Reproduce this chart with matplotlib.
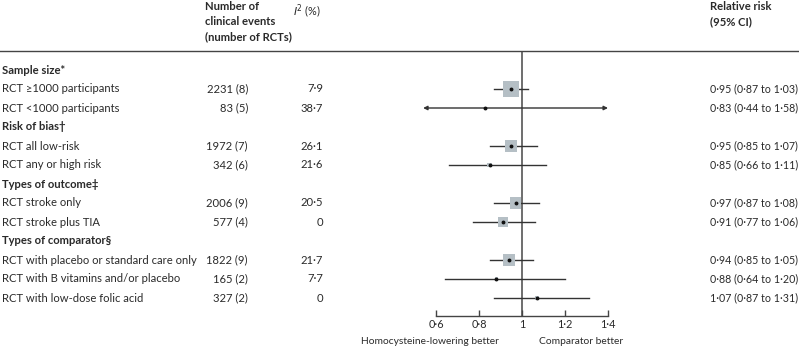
import numpy as np
import matplotlib
matplotlib.use("Agg")
import matplotlib.pyplot as plt
from matplotlib.lines import Line2D
from matplotlib import transforms

plt.rcParams['font.family'] = ['Lato', 'DejaVu Sans']
plt.rcParams['font.size'] = 8.1
plt.rcParams['text.color'] = '#2a2a2a'

# rows of the table
groups = ['Sample size*', 'Risk of bias\u2020', 'Types of outcome\u2021', 'Types of comparator\u00a7']
labels = [
    ['RCT \u22651000 participants', 'RCT <1000 participants'],
    ['RCT all low-risk', 'RCT any or high risk'],
    ['RCT stroke only', 'RCT stroke plus TIA'],
    ['RCT with placebo or standard care only', 'RCT with B vitamins and/or placebo',
     'RCT with low-dose folic acid'],
]
events = [2231, 83, 1972, 342, 2006, 577, 1822, 165, 327]
n_rcts = [8, 5, 7, 6, 9, 4, 9, 2, 2]
i2 = [7.9, 38.7, 26.1, 21.6, 20.5, 0, 21.7, 7.7, 0]
rr = [0.95, 0.83, 0.95, 0.85, 0.97, 0.91, 0.94, 0.88, 1.07]
lo = [0.87, 0.44, 0.85, 0.66, 0.87, 0.77, 0.85, 0.64, 0.87]
hi = [1.03, 1.58, 1.07, 1.11, 1.08, 1.06, 1.05, 1.20, 1.31]
weight = [100, 1, 61, 10, 56, 41, 52, 4, 6.5]  # relative box weight
xticks = [0.6, 0.8, 1.0, 1.2, 1.4]

def fmt(v, nd=2):
    s = f'{v:.{nd}f}'
    return s.replace('.', '\u00b7')

W, H = 799, 349
fig = plt.figure(figsize=(W / 100, H / 100), dpi=100)

# forest axis: 0.6 at x=436, 1.4 at x=608, top rule y=51, axis y=316
ax = fig.add_axes([436 / W, (H - 316) / H, (608 - 436) / W, (316 - 51) / H])
ax.set_xlim(0.6, 1.4)
row_top, row_step = 70, 19
ax.set_ylim((316 - row_top) / row_step, (51 - row_top) / row_step)
for s in ['left', 'right', 'top']:
    ax.spines[s].set_visible(False)
ax.spines['bottom'].set_color('#444444')
ax.spines['bottom'].set_linewidth(1.0)
ax.set_yticks([])
ax.set_xticks(xticks)
ax.set_xticklabels(['1' if t == 1 else fmt(t, 1) for t in xticks])
ax.tick_params(axis='x', direction='in', length=4, width=1.0, color='#444444',
               pad=2.5, labelsize=7.8, labelcolor='#2a2a2a')
ax.patch.set_alpha(0)
ax.axvline(1.0, color='#555555', lw=1.2, zorder=1)

# top rule across the whole figure
fig.add_artist(Line2D([0, 1], [(H - 51) / H] * 2, transform=fig.transFigure,
                      color='#444444', lw=1.0))

tr = transforms.blended_transform_factory(fig.transFigure, ax.transData)
xmin_show, xmax_show = 0.54, 1.40

row = 0
k = 0
for g, labs in zip(groups, labels):
    ax.text(2 / W, row, g, transform=tr, fontweight='bold', va='center', ha='left')
    row += 1
    for lab in labs:
        ax.text(2 / W, row, lab, transform=tr, va='center', ha='left')
        ax.text(248 / W, row, f'{events[k]} ({n_rcts[k]})', transform=tr,
                va='center', ha='right')
        ax.text(323 / W, row, '0' if i2[k] == 0 else fmt(i2[k], 1), transform=tr,
                va='center', ha='right')
        ax.text(710 / W, row, f'{fmt(rr[k])} ({fmt(lo[k])} to {fmt(hi[k])})',
                transform=tr, va='center', ha='left', fontsize=7.7)
        a, b = max(lo[k], xmin_show), min(hi[k], xmax_show)
        if lo[k] < xmin_show or hi[k] > xmax_show:
            ax.annotate('', xy=(a, row), xytext=(b, row), annotation_clip=False,
                        arrowprops=dict(arrowstyle='<|-|>', color='#333333', lw=1.0,
                                        mutation_scale=6, shrinkA=0, shrinkB=0))
        else:
            ax.plot([a, b], [row, row], color='#333333', lw=1.0, zorder=2)
        ax.scatter([rr[k]], [row], marker='s', s=weight[k] * 1.28,
                   color='#b5bfc5', edgecolor='none', zorder=3)
        ax.plot([rr[k]], [row], 'o', color='#111111', markersize=1.8, zorder=4)
        row += 1
        k += 1

# headers
for i, line in enumerate(['Number of', 'clinical events', '(number of RCTs)']):
    fig.text(205 / W, 1 - (7 + 14.7 * i) / H, line, fontweight='bold', va='center')
fig.text(293 / W, 1 - 2 / H, r'$I^2$ (%)', va='top', fontsize=7.8)
for i, line in enumerate(['Relative risk', '(95% CI)']):
    fig.text(710 / W, 1 - (7 + 14.7 * i) / H, line, fontweight='bold', va='center')

fig.text(499 / W, 1 - 342 / H, 'Homocysteine-lowering better', ha='right', va='center',
         fontsize=7.4)
fig.text(539 / W, 1 - 342 / H, 'Comparator better', ha='left', va='center',
         fontsize=7.4)

fig.savefig('out.png', dpi=100)
